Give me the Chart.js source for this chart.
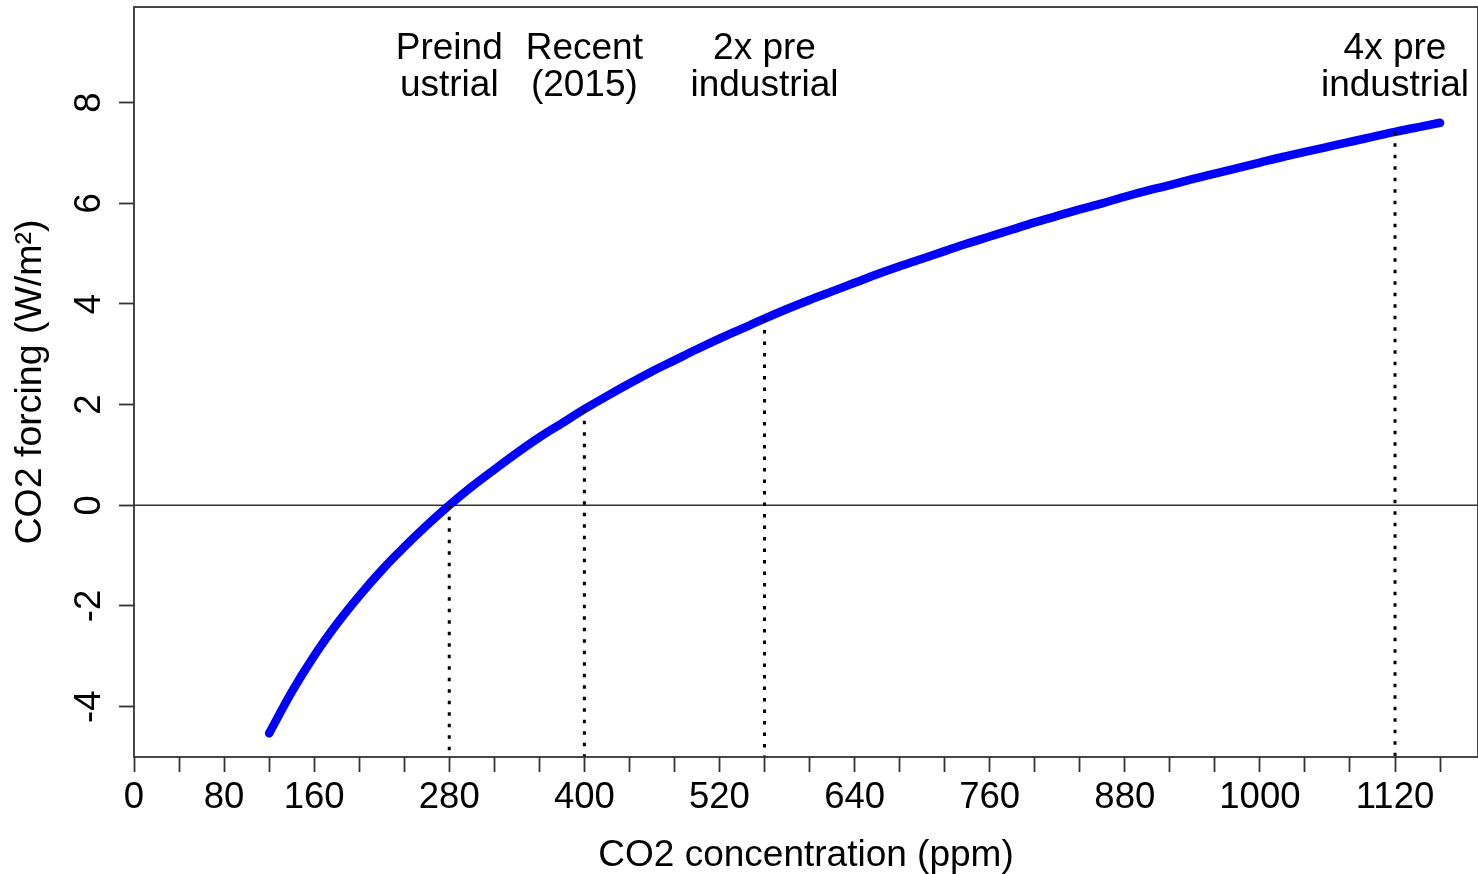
<!DOCTYPE html>
<html lang="en">
<head>
    <meta charset="UTF-8">
    <title>CO2 forcing vs concentration</title>
    <style>
        html, body {
            margin: 0;
            padding: 0;
            background: #ffffff;
        }
        #wrap {
            width: 1478px;
            height: 874px;
        }
    </style>
    <script src="https://cdn.jsdelivr.net/npm/chart.js"></script>
</head>
<body>
    <div id="wrap"><canvas id="forcingChart" width="1478" height="874"></canvas></div>
    <script>
        // CO2 concentration (ppm) and the forcing it gives (W/m2)
        const co2 = [120, 140, 160, 180, 200, 220, 240, 260, 280, 300, 320, 340, 360, 380, 400, 420, 440, 460,
                     480, 500, 520, 540, 560, 580, 600, 620, 640, 660, 680, 700, 720, 740, 760, 780, 800, 820,
                     840, 860, 880, 900, 920, 940, 960, 980, 1000, 1020, 1040, 1060, 1080, 1100, 1120, 1140, 1160];
        const forcing = [-4.53, -3.71, -2.99, -2.36, -1.80, -1.29, -0.83, -0.40, 0.00, 0.37, 0.71, 1.04, 1.35,
                         1.63, 1.91, 2.17, 2.42, 2.66, 2.88, 3.10, 3.31, 3.51, 3.71, 3.90, 4.08, 4.25, 4.42,
                         4.59, 4.75, 4.90, 5.05, 5.20, 5.34, 5.48, 5.62, 5.75, 5.88, 6.00, 6.13, 6.25, 6.36,
                         6.48, 6.59, 6.70, 6.81, 6.92, 7.02, 7.12, 7.22, 7.32, 7.42, 7.51, 7.60];

        // reference levels marked with dotted drop lines
        const markerX = [280, 400, 560, 1120];
        const markerText = [['Preind', 'ustrial'], ['Recent', '(2015)'], ['2x pre', 'industrial'], ['4x pre', 'industrial']];

        // axis ticks
        const xTicks = [0, 40, 80, 120, 160, 200, 240, 280, 320, 360, 400, 440, 480, 520, 560, 600, 640, 680,
                        720, 760, 800, 840, 880, 920, 960, 1000, 1040, 1080, 1120, 1160];
        const xTickLabels = [0, 80, 160, 280, 400, 520, 640, 760, 880, 1000, 1120];
        const yTicks = [-4, -2, 0, 2, 4, 6, 8];

        const X_MIN = 0, X_MAX = 1193.7;
        const Y_MIN = -5, Y_MAX = 9.9;
        const LABEL_Y = 8.7;

        const FONT = '"Liberation Sans", Arial, sans-serif';
        const AXIS_COLOR = '#333333';

        const curve = co2.map((c, i) => ({x: c, y: forcing[i]}));

        const dropLines = markerX.map(x => ({
            data: [{x: x, y: forcing[co2.indexOf(x)]}, {x: x, y: Y_MIN}],
            showLine: true,
            borderColor: '#000000',
            borderWidth: 3,
            borderDash: [3.5, 8],
            pointRadius: 0,
            order: 0
        }));

        // box around the plot region, rotated y labels and the marker captions
        const decorations = {
            id: 'decorations',
            afterDraw(chart) {
                const ctx = chart.ctx;
                const area = chart.chartArea;
                const xs = chart.scales.x;
                const ys = chart.scales.y;

                ctx.save();
                ctx.strokeStyle = AXIS_COLOR;
                ctx.lineWidth = 1.8;
                ctx.strokeRect(area.left, area.top, area.right - area.left, area.bottom - area.top);

                ctx.fillStyle = '#000000';
                ctx.font = '36.5px ' + FONT;
                ctx.textAlign = 'center';
                ctx.textBaseline = 'alphabetic';
                ys.ticks.forEach(t => {
                    ctx.save();
                    ctx.translate(area.left - 34, ys.getPixelForValue(t.value));
                    ctx.rotate(-Math.PI / 2);
                    ctx.fillText(String(t.value), 0, 0);
                    ctx.restore();
                });

                ctx.font = '37px ' + FONT;
                ctx.textBaseline = 'middle';
                markerX.forEach((x, i) => {
                    const px = xs.getPixelForValue(x);
                    const py = ys.getPixelForValue(LABEL_Y);
                    ctx.fillText(markerText[i][0], px, py - 18.5);
                    ctx.fillText(markerText[i][1], px, py + 18.5);
                });
                ctx.restore();
            }
        };

        new Chart(document.getElementById('forcingChart'), {
            type: 'scatter',
            data: {
                datasets: [
                    ...dropLines,
                    {
                        data: curve,
                        showLine: true,
                        borderColor: '#0000ff',
                        borderWidth: 8.5,
                        borderCapStyle: 'round',
                        borderJoinStyle: 'round',
                        cubicInterpolationMode: 'monotone',
                        pointRadius: 0,
                        order: 1
                    },
                    {
                        // zero line across the whole plot
                        data: [{x: X_MIN, y: 0}, {x: X_MAX, y: 0}],
                        showLine: true,
                        borderColor: AXIS_COLOR,
                        borderWidth: 1.5,
                        pointRadius: 0,
                        order: 2
                    }
                ]
            },
            options: {
                responsive: false,
                animation: false,
                devicePixelRatio: 1,
                layout: {padding: {top: 7, right: 0, bottom: 0, left: 0}},
                plugins: {
                    legend: {display: false},
                    tooltip: {enabled: false}
                },
                scales: {
                    x: {
                        type: 'linear',
                        min: X_MIN,
                        max: X_MAX,
                        afterBuildTicks: s => { s.ticks = xTicks.map(v => ({value: v})); },
                        afterFit: s => { s.height = 117; },
                        border: {display: false},
                        grid: {
                            display: true,
                            drawOnChartArea: false,
                            drawTicks: true,
                            tickLength: 15,
                            tickColor: AXIS_COLOR,
                            tickWidth: 1.8
                        },
                        ticks: {
                            autoSkip: false,
                            maxRotation: 0,
                            padding: 4,
                            color: '#000000',
                            font: {family: FONT, size: 36.5},
                            callback: v => xTickLabels.includes(v) ? String(v) : ''
                        },
                        title: {
                            display: true,
                            text: 'CO2 concentration (ppm)',
                            color: '#000000',
                            font: {family: FONT, size: 37, lineHeight: 1},
                            padding: {top: 0, bottom: 0}
                        }
                    },
                    y: {
                        type: 'linear',
                        min: Y_MIN,
                        max: Y_MAX,
                        afterBuildTicks: s => { s.ticks = yTicks.map(v => ({value: v})); },
                        afterFit: s => { s.width = 134; },
                        border: {display: false},
                        grid: {
                            display: true,
                            drawOnChartArea: false,
                            drawTicks: true,
                            tickLength: 15,
                            tickColor: AXIS_COLOR,
                            tickWidth: 1.8
                        },
                        ticks: {display: false},
                        title: {
                            display: true,
                            text: 'CO2 forcing (W/m²)',
                            color: '#000000',
                            font: {family: FONT, size: 37.5, lineHeight: 1},
                            padding: {top: 12, bottom: 0}
                        }
                    }
                }
            },
            plugins: [decorations]
        });
    </script>
</body>
</html>
